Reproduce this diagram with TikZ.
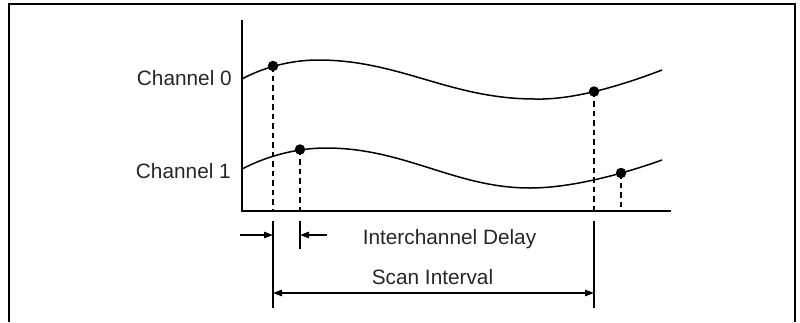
\documentclass[tikz,border=0pt]{standalone}
\usepackage{fontspec}
\setmainfont{Liberation Sans}
\usetikzlibrary{arrows.meta}
\begin{document}
\begin{tikzpicture}[x=1pt,y=-1pt,
  lbl/.style={font=\fontsize{20.8}{24}\selectfont, text=black!85, inner sep=0pt},
  dot/.style={circle, fill=black, inner sep=0pt, minimum size=10.5pt},
  wave/.style={line width=1.5pt},
  guide/.style={line width=1.1pt, dash pattern=on 5.5pt off 4pt},
  tickline/.style={line width=1.2pt},
  dimarrow/.style={line width=1.2pt, -{Triangle[length=9pt,width=6.5pt]}},
  frame/.style={line width=2pt},
]
\useasboundingbox (0,0) rectangle (800,322);
% outer frame (open at the bottom)
\coordinate (fbl) at (8.5,322);
\coordinate (ftl) at (8.5,4);
\coordinate (ftr) at (795,4);
\coordinate (fbr) at (795,322);
\draw[frame] (fbl) -- (ftl) -- (ftr) -- (fbr);
% axes
\coordinate (ytop) at (242,20);
\coordinate (origin) at (242,211);
\coordinate (xend) at (671,211);
\draw[line width=1.3pt] (ytop) -- (origin) -- (xend);
% waveforms
\draw[wave] (242,79) .. controls (262,68) and (290,60) .. (318,60)
  .. controls (400,60) and (450,99) .. (535,99)
  .. controls (570,100) and (615,88) .. (662,70);
\draw[wave] (242,169) .. controls (265,157) and (295,148) .. (326,148)
  .. controls (405,148) and (455,188) .. (530,188)
  .. controls (570,188) and (620,175) .. (662,160);
% sample dots
\node[dot] (a0) at (273,66) {};
\node[dot] (b0) at (594,91.5) {};
\node[dot] (a1) at (300,149.5) {};
\node[dot] (b1) at (621,173) {};
% dashed guides
\draw[guide] (a0.center) -- (a0 |- origin);
\draw[guide] (b0.center) -- (b0 |- origin);
\draw[guide] (a1.center) -- (a1 |- origin);
\draw[guide] (b1.center) -- (b1 |- origin);
% dimension ticks
\coordinate (t0top) at (273,221);
\coordinate (t0bot) at (273,308);
\coordinate (t1top) at (300,221);
\coordinate (t1bot) at (300,249);
\coordinate (t2top) at (594,221);
\coordinate (t2bot) at (594,308);
\draw[tickline] (t0top) -- (t0bot);
\draw[tickline] (t1top) -- (t1bot);
\draw[tickline] (t2top) -- (t2bot);
% interchannel delay arrows
\coordinate (dl) at (240,235);
\coordinate (dr) at (327,235);
\draw[dimarrow] (dl) -- (t0top |- dl);
\draw[dimarrow] (dr) -- (t1top |- dr);
% scan interval arrow
\coordinate (sl) at (273,293);
\coordinate (sr) at (594,293);
\draw[line width=1.2pt, {Triangle[length=9pt,width=6.5pt]}-{Triangle[length=9pt,width=6.5pt]}] (sl) -- (sr);
% labels
\node[lbl, anchor=east] (ch0) at (232,78.5) {Channel 0};
\node[lbl, anchor=east] (ch1) at (231,171.5) {Channel 1};
\node[lbl, anchor=base] (icd) at (449.5,244) {Interchannel Delay};
\node[lbl, anchor=base] (scan) at (432.5,284) {Scan Interval};
\end{tikzpicture}
\end{document}
